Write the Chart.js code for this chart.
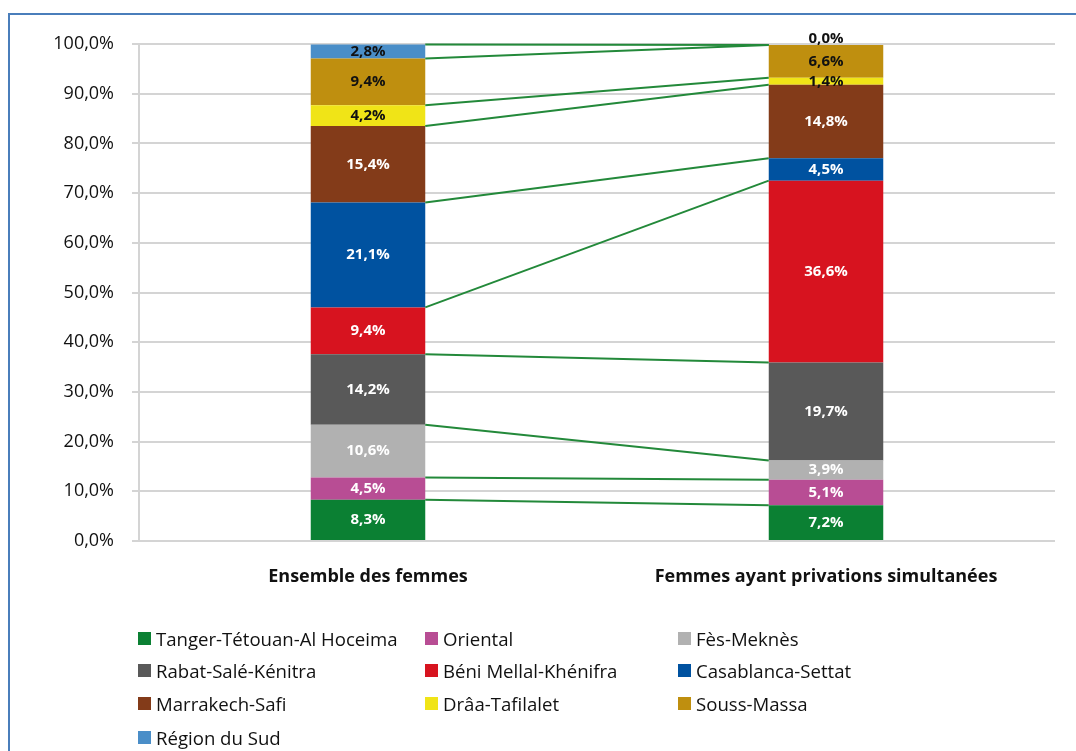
<!DOCTYPE html>
<html>
<head>
<meta charset="utf-8">
<script src="https://cdn.jsdelivr.net/npm/chart.js@4"></script>
<style>
  html, body { margin: 0; padding: 0; background: #fff; }
  #wrap { position: relative; width: 1076px; height: 751px; overflow: hidden; font-family: "Open Sans", sans-serif; }
  #frame { position: absolute; left: 8px; top: 13px; width: 1200px; height: 900px; border: 2px solid #4a7ebb; box-sizing: border-box; }
  canvas { position: absolute; left: 0; top: 0; }
  .leg { position: absolute; display: flex; align-items: center; font-size: 18.6px; color: #111; white-space: nowrap; }
  .leg span.sw { display: inline-block; width: 13px; height: 13px; margin-right: 5px; }
</style>
</head>
<body>
<div id="wrap">
  <div id="frame"></div>
  <canvas id="c" width="1076" height="751"></canvas>
  <div id="legend"></div>
</div>
<script>
// Categories (x axis)
const categories = ["Ensemble des femmes", "Femmes ayant privations simultanées"];

// Regions, stacked bottom to top
const regions = [
  "Tanger-Tétouan-Al Hoceima", "Oriental", "Fès-Meknès",
  "Rabat-Salé-Kénitra", "Béni Mellal-Khénifra", "Casablanca-Settat",
  "Marrakech-Safi", "Drâa-Tafilalet", "Souss-Massa", "Région du Sud"
];

// Share (%) of each region, per category
const ensembleFemmes   = [8.3, 4.5, 10.6, 14.2, 9.4, 21.1, 15.4, 4.2, 9.4, 2.8];
const femmesPrivations = [7.2, 5.1, 3.9, 19.7, 36.6, 4.5, 14.8, 1.4, 6.6, 0.0];

// Y axis ticks
const yTicks = [0, 10, 20, 30, 40, 50, 60, 70, 80, 90, 100];

const colors = [
  "#0b8033", "#b84d94", "#b1b1b1", "#595959", "#d7131f",
  "#0052a0", "#833b19", "#f0e417", "#bf8f0f", "#4a8ec8"
];
const labelColors = [
  "#fff", "#fff", "#fff", "#fff", "#fff",
  "#fff", "#fff", "#111", "#111", "#111"
];

const fmt = v => v.toFixed(1).replace(".", ",") + "%";

const datasets = regions.map((name, i) => ({
  label: name,
  data: [ensembleFemmes[i], femmesPrivations[i]],
  backgroundColor: colors[i],
  borderWidth: 0,
  barPercentage: 0.25,
  categoryPercentage: 1.0,
  labelColor: labelColors[i]
}));

// Series lines joining the top of each segment across the two bars
const seriesLines = {
  id: "seriesLines",
  afterDatasetsDraw(chart) {
    const ctx = chart.ctx;
    ctx.save();
    ctx.strokeStyle = "#23893a";
    ctx.lineWidth = 2;
    chart.data.datasets.forEach((ds, i) => {
      const meta = chart.getDatasetMeta(i);
      const a = meta.data[0], b = meta.data[1];
      ctx.beginPath();
      ctx.moveTo(a.x + a.width / 2, a.y);
      ctx.lineTo(b.x - b.width / 2, b.y);
      ctx.stroke();
    });
    ctx.restore();
  }
};

// Value labels centred in each segment
const valueLabels = {
  id: "valueLabels",
  afterDatasetsDraw(chart) {
    const ctx = chart.ctx;
    ctx.save();
    ctx.font = "bold 15px 'Open Sans', sans-serif";
    ctx.textAlign = "center";
    ctx.textBaseline = "middle";
    chart.data.datasets.forEach((ds, i) => {
      const meta = chart.getDatasetMeta(i);
      meta.data.forEach((el, j) => {
        const v = ds.data[j];
        let y = (el.y + el.base) / 2;
        if (v === 0) y -= 6;
        ctx.fillStyle = ds.labelColor;
        ctx.fillText(fmt(v), el.x, y);
      });
    });
    ctx.restore();
  }
};

new Chart(document.getElementById("c"), {
  type: "bar",
  data: { labels: categories, datasets },
  options: {
    responsive: false,
    animation: false,
    layout: { padding: { left: 0, right: 21, top: 44, bottom: 150 } },
    plugins: { legend: { display: false }, tooltip: { enabled: false } },
    scales: {
      x: {
        stacked: true,
        grid: { display: false, drawTicks: false },
        border: { display: false },
        ticks: { color: "#111", padding: 25, font: { family: "Open Sans", size: 18, weight: "bold" } },
        afterFit(s) { s.height = 60; }
      },
      y: {
        stacked: true,
        min: 0, max: 100,
        afterBuildTicks(s) { s.ticks = yTicks.map(v => ({ value: v })); },
        ticks: { color: "#111", padding: 18, font: { family: "Open Sans", size: 18 }, callback: v => fmt(v) },
        grid: { color: "#d4d4d4", lineWidth: 2, tickLength: 7 },
        border: { display: true, color: "#d4d4d4", width: 2 },
        afterFit(s) { s.width = 139; }
      }
    }
  },
  plugins: [seriesLines, valueLabels]
});

// Legend in three columns
const legendPos = [
  [138, 638], [425, 638], [678, 638],
  [138, 670], [425, 670], [678, 670],
  [138, 703], [425, 703], [678, 703],
  [138, 737]
];
const legend = document.getElementById("legend");
regions.forEach((name, i) => {
  const d = document.createElement("div");
  d.className = "leg";
  d.style.left = legendPos[i][0] + "px";
  d.style.top = (legendPos[i][1] - 13) + "px";
  d.style.height = "26px";
  d.innerHTML = '<span class="sw" style="background:' + colors[i] + '"></span>' + name;
  legend.appendChild(d);
});
</script>
</body>
</html>
